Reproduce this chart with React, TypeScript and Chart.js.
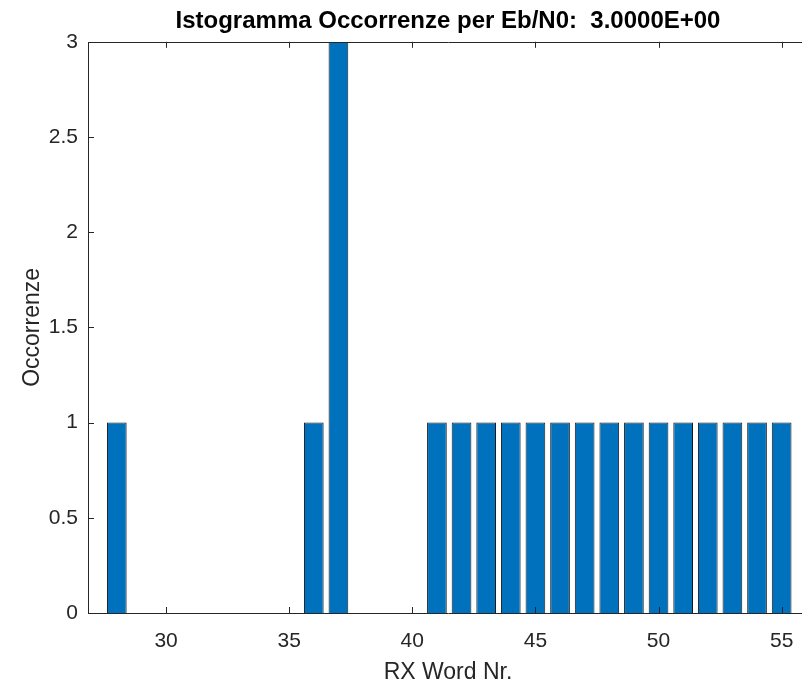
import React, { useEffect, useRef } from "react";
import { Chart, registerables } from "chart.js";

Chart.register(...registerables);

const titleText = "Istogramma Occorrenze per Eb/N0:  3.0000E+00";
const xLabel = "RX Word Nr.";
const yLabel = "Occorrenze";
const wordNumbers = [28, 36, 37, 41, 42, 43, 44, 45, 46, 47, 48, 49, 50, 51, 52, 53, 54, 55];
const occurrences = [1, 1, 3, 1, 1, 1, 1, 1, 1, 1, 1, 1, 1, 1, 1, 1, 1, 1];
const xMin = 26.83;
const xMax = 56.07;
const xStep = 5;
const yMin = 0;
const yMax = 3;
const yStep = 0.5;

const FONT = "'Liberation Sans', Arial, Helvetica, sans-serif";
const AXIS_COLOR = "#262626";

const boxTicksPlugin = {
  id: "boxTicks",
  afterDraw(chart: any) {
    const { ctx, chartArea } = chart;
    const { left, right, top, bottom } = chartArea;
    const len = 6;
    ctx.save();
    ctx.strokeStyle = AXIS_COLOR;
    ctx.lineWidth = 1;
    ctx.beginPath();
    ctx.rect(Math.round(left) + 0.5, Math.round(top) + 0.5, Math.round(right - left), Math.round(bottom - top));
    const xs = chart.scales.x;
    xs.ticks.forEach((t: any) => {
      const px = Math.round(xs.getPixelForValue(t.value)) + 0.5;
      ctx.moveTo(px, bottom);
      ctx.lineTo(px, bottom - len);
      ctx.moveTo(px, top);
      ctx.lineTo(px, top + len);
    });
    const ys = chart.scales.y;
    ys.ticks.forEach((t: any) => {
      const py = Math.round(ys.getPixelForValue(t.value)) + 0.5;
      ctx.moveTo(left, py);
      ctx.lineTo(left + len, py);
      ctx.moveTo(right, py);
      ctx.lineTo(right - len, py);
    });
    ctx.stroke();
    ctx.restore();
  },
};

export default function App() {
  const canvasRef = useRef<HTMLCanvasElement | null>(null);

  useEffect(() => {
    const canvas = canvasRef.current;
    if (!canvas) return;
    const chart = new Chart(canvas, {
      type: "bar",
      data: {
        datasets: [
          {
            data: wordNumbers.map((x, i) => ({ x, y: occurrences[i] })),
            backgroundColor: "#0072BD",
            borderColor: "#1a1a1a",
            borderWidth: 1,
            barPercentage: 0.8,
            categoryPercentage: 1,
          },
        ],
      },
      options: {
        animation: false,
        responsive: false,
        devicePixelRatio: 1,
        layout: { padding: 0 },
        plugins: {
          legend: { display: false },
          tooltip: { enabled: false },
          title: {
            display: true,
            text: titleText,
            color: "#000",
            font: { family: FONT, size: 24, weight: "bold" },
            padding: { top: 7, bottom: 6 },
          },
        },
        scales: {
          x: {
            type: "linear",
            min: xMin,
            max: xMax,
            offset: false,
            grid: { display: false, drawTicks: false },
            border: { display: false },
            ticks: {
              stepSize: xStep,
              includeBounds: false,
              color: AXIS_COLOR,
              font: { family: FONT, size: 21 },
              padding: 16,
              maxRotation: 0,
            },
            title: {
              display: true,
              text: xLabel,
              color: AXIS_COLOR,
              font: { family: FONT, size: 23 },
              padding: { top: 0, bottom: 0 },
            },
            afterFit(scale: any) {
              scale.height = 73;
            },
          },
          y: {
            min: yMin,
            max: yMax,
            grid: { display: false, drawTicks: false },
            border: { display: false },
            ticks: {
              stepSize: yStep,
              color: AXIS_COLOR,
              font: { family: FONT, size: 21 },
              padding: 10,
              callback: (v: any) => String(v),
            },
            title: {
              display: true,
              text: yLabel,
              color: AXIS_COLOR,
              font: { family: FONT, size: 23 },
              padding: { top: 19, bottom: 0 },
            },
            afterFit(scale: any) {
              scale.width = 88;
            },
          },
          yRight: {
            position: "right",
            display: true,
            min: yMin,
            max: yMax,
            grid: { display: false, drawTicks: false },
            border: { display: false },
            ticks: { display: false },
            afterFit(scale: any) {
              scale.width = 88;
            },
          },
        },
      },
      plugins: [boxTicksPlugin],
    } as any);
    return () => chart.destroy();
  }, []);

  return (
    <div
      style={{
        position: "absolute",
        left: 0,
        top: 0,
        width: 802,
        height: 686,
        overflow: "hidden",
        background: "#fff",
      }}
    >
      <canvas ref={canvasRef} width={896} height={686} style={{ display: "block", width: 896, height: 686 }} />
    </div>
  );
}
